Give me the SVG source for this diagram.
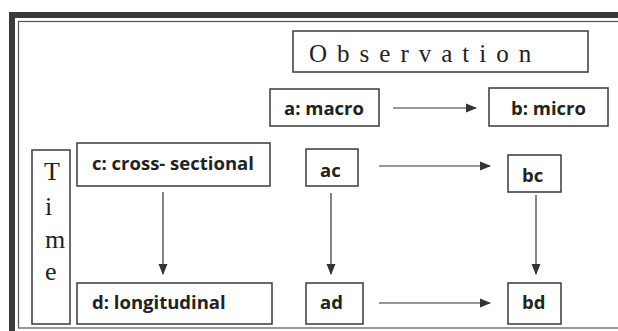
<svg xmlns="http://www.w3.org/2000/svg" width="618" height="331" viewBox="0 0 618 331">
<style>
.box{fill:#fff;stroke:#3a3a3a;stroke-width:1.5}
.lbl{font-family:"Open Sans","Liberation Sans",sans-serif;font-weight:bold;font-size:18.5px;fill:#222}
.ser{font-family:"Liberation Serif","DejaVu Serif",serif;fill:#222}
.conn{stroke:#333;stroke-width:1.2;fill:none;marker-end:url(#ah)}
</style>
<defs>
<marker id="ah" markerWidth="11" markerHeight="11" refX="10" refY="5.5" orient="auto" markerUnits="userSpaceOnUse">
<path d="M0,1 L11,5.5 L0,10 Z" fill="#333"/>
</marker>
</defs>
<rect width="618" height="331" fill="#fff"/>
<g id="frame">
<rect x="12" y="15" width="620" height="320" fill="none" stroke="#3a3a3a" stroke-width="6"/>
<rect x="18.5" y="21.5" width="610" height="306.5" fill="none" stroke="#555" stroke-width="1.2"/>
</g>
<g id="observation">
<rect class="box" x="293" y="31" width="295" height="41"/>
<text class="ser" x="309" y="62" font-size="25" letter-spacing="10">Observation</text>
</g>
<g id="time">
<rect class="box" x="32" y="150" width="38" height="174"/>
<text class="ser" font-size="26" x="44" y="180">T</text>
<text class="ser" font-size="26" x="45" y="215">i</text>
<text class="ser" font-size="26" x="45" y="248">m</text>
<text class="ser" font-size="26" x="45" y="280">e</text>
</g>
<g id="a-macro">
<rect class="box" x="270" y="89" width="109" height="37"/>
<text class="lbl" x="284" y="115">a: macro</text>
</g>
<g id="b-micro">
<rect class="box" x="489" y="88" width="119" height="38"/>
<text class="lbl" x="511" y="115">b: micro</text>
</g>
<g id="c-cross">
<rect class="box" x="77" y="143" width="193" height="43"/>
<text class="lbl" x="92" y="170">c: cross- sectional</text>
</g>
<g id="d-long">
<rect class="box" x="77" y="283" width="195" height="41"/>
<text class="lbl" x="92" y="309">d: longitudinal</text>
</g>
<g id="ac">
<rect class="box" x="306" y="149" width="52" height="37"/>
<text class="lbl" x="320" y="177">ac</text>
</g>
<g id="bc">
<rect class="box" x="508" y="155" width="53" height="37"/>
<text class="lbl" x="522" y="182">bc</text>
</g>
<g id="ad">
<rect class="box" x="306" y="283" width="57" height="41"/>
<text class="lbl" x="320" y="309">ad</text>
</g>
<g id="bd">
<rect class="box" x="508" y="283" width="53" height="41"/>
<text class="lbl" x="522" y="309">bd</text>
</g>
<g id="connectors">
<line class="conn" x1="393" y1="108" x2="476" y2="108"/>
<line class="conn" x1="163" y1="192" x2="163" y2="274"/>
<line class="conn" x1="331" y1="193" x2="331" y2="274"/>
<line class="conn" x1="536" y1="195" x2="536" y2="274"/>
<line class="conn" x1="379" y1="166" x2="490" y2="166"/>
<line class="conn" x1="379" y1="303" x2="490" y2="303"/>
</g>
</svg>
